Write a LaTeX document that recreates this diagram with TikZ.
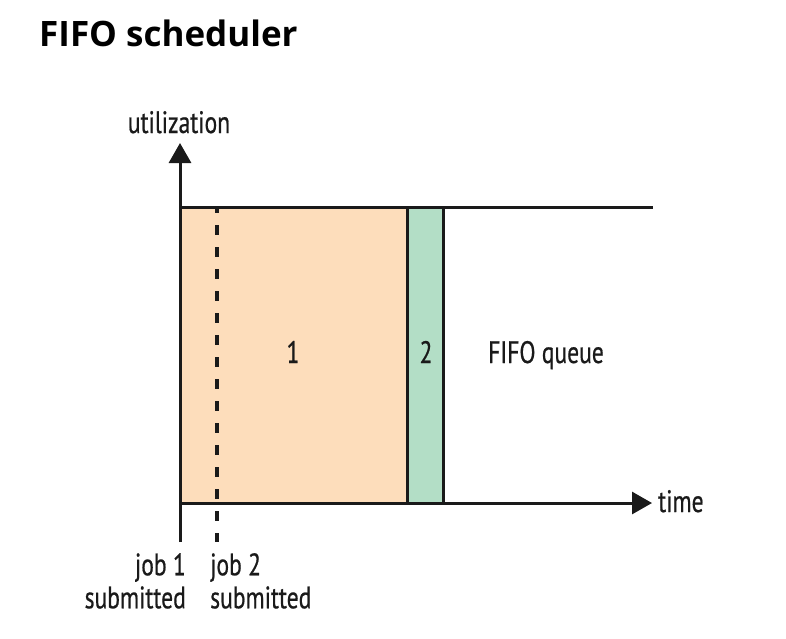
\documentclass[tikz,border=0pt]{standalone}
\usepackage{fontspec}
\usetikzlibrary{arrows.meta}
\newfontfamily\titlefont{Open Sans}
\newfontfamily\labelfont[FakeStretch=0.76, FakeBold=0.6]{PT Sans}
\definecolor{jobonecol}{HTML}{FDDDBB}
\definecolor{jobtwocol}{HTML}{B3DEC6}
\definecolor{linecol}{HTML}{1A1A1A}

\begin{document}
\begin{tikzpicture}[x = 1pt, y = -1pt,
	axisline/.style = {line width = 3pt, draw = linecol},
	axisarrow/.style = {axisline, -{Triangle[length = 20pt, width = 22pt]}},
	lbl/.style = {font = \labelfont\fontsize{31}{33}\selectfont, inner sep = 0pt, text = linecol}]

	% Frame
	
	\useasboundingbox (0, 0) rectangle (786, 638);
	
	\node [anchor = base west, inner sep = 0pt, font = \titlefont\bfseries\fontsize{35}{40}\selectfont] (title) at (39, 46) {FIFO scheduler};
	
	% Corner points
	
	\coordinate (o) at (180, 503);
	\coordinate (tl) at (180, 207);
	\coordinate (tr) at (653, 207);
	\coordinate (ya) at (180, 143);
	\coordinate (yb) at (180, 542);
	\coordinate (xa) at (652, 503);
	\coordinate (ja) at (407, 207);
	\coordinate (jb) at (443, 503);
	\coordinate (da) at (217, 207);
	\coordinate (db) at (217, 542);
	
	% Jobs
	
	\fill [jobonecol] (tl) rectangle (ja |- o);
	\fill [jobtwocol] (ja) rectangle (jb);
	\draw [axisline] (ja) -- (ja |- o);
	\draw [axisline] (jb |- tl) -- (jb);
	\draw [line width = 3.5pt, draw = linecol, dash pattern = on 10pt off 12pt, dash phase = 4pt] (da) -- (db);
	
	% Axes
	
	\draw [axisarrow] (yb) -- (ya);
	\draw [axisarrow] (o) -- (xa);
	\draw [axisline] (tl) -- (tr);
	
	% Labels
	
	\node [lbl, anchor = base] (ylabel) at (179, 133) {utilization};
	\node [lbl, anchor = base west] (xlabel) at (658, 512) {time};
	\node [lbl, anchor = base] (jobone) at (293, 363) {1};
	\node [lbl, anchor = base] (jobtwo) at (426, 363) {2};
	\node [lbl, anchor = base west] (queue) at (488, 363) {FIFO queue};
	\node [lbl, anchor = north east, align = right] (subone) at (186, 553) {job 1\\submitted};
	\node [lbl, anchor = north west, align = left] (subtwo) at (210, 553) {job 2\\submitted};

\end{tikzpicture}
\end{document}
